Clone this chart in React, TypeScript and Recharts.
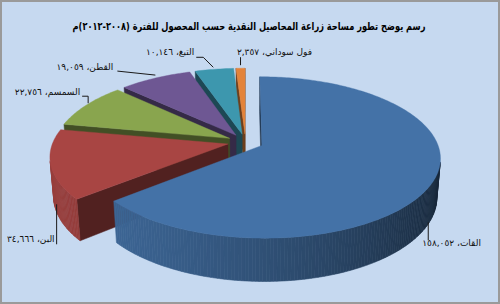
import React, { useLayoutEffect, useRef, useState } from 'react';
import { PieChart, Pie } from 'recharts';

// ---- data ----
const CATEGORIES = ['القات', 'البن', 'السمسم', 'القطن', 'التبغ', 'فول سوداني'];
const AREAS = [158052, 34666, 22756, 19059, 10146, 2357];
const TITLE = 'رسم يوضح تطور مساحة زراعة المحاصيل النقدية حسب المحصول للفترة (٢٠٠٨-٢٠١٢)م';

// ---- styles ----
const COLORS = ['#4472a7', '#a84543', '#89a54e', '#6e5793', '#3d97ae', '#e3833a'];
// label placement relative to the slice's rim point (leader polyline + text point)
const LABEL_LAYOUT = [
  { leader: [[-5, 41], [-5, 59]], text: [-11, 62], anchor: 'start' },
  { leader: [[6, 40], [6, 80]], text: [4, 75], anchor: 'end' },
  { leader: [[2, -2], [2, -9], [-4, -9]], text: [-6, -13], anchor: 'end' },
  { leader: [[0, -3], [-38, -7]], text: [-42, -11], anchor: 'end' },
  { leader: [[-1, -2], [-11, -12], [-18, -12]], text: [-20, -17], anchor: 'end' },
  { leader: [[0, -3], [0, -11]], text: [-3.6, -16], anchor: 'start' },
];

const FONT = '"DejaVu Sans", "Liberation Sans", Arial, sans-serif';
const TITLE_WIDTH = 352;

// 3D projection parameters
const TS = 0.445;
const TC = Math.sqrt(1 - TS * TS);
const PERSP = 0.148;
const DIST = TC / PERSP;
const EXPLODE = 0.103;
const DEPTH = 0.25;
const RAD = Math.PI / 180;

const tableData = CATEGORIES.map((name, i) => ({ name, value: AREAS[i], fill: COLORS[i], idx: i })).reverse();

function shade(hex: string, f: number) {
  const n = parseInt(hex.slice(1), 16);
  const r = Math.max(0, Math.min(255, Math.round(((n >> 16) & 255) * f)));
  const g = Math.max(0, Math.min(255, Math.round(((n >> 8) & 255) * f)));
  const b = Math.max(0, Math.min(255, Math.round((n & 255) * f)));
  return `rgb(${r},${g},${b})`;
}

function geom(cx: number, cy: number, k: number, a1: number, a2: number) {
  const mid = ((a1 + a2) / 2) * RAD;
  const ox = EXPLODE * Math.cos(mid);
  const oz = -EXPLODE * Math.sin(mid);
  const P = (X: number, Z: number, H: number) => {
    const ratio = 1 - (Z * TC + H * TS) / DIST;
    return [cx + (k * X) / ratio, cy - (k * (-Z * TS + H * TC)) / ratio];
  };
  const rim = (deg: number, H: number) => P(ox + Math.cos(deg * RAD), oz - Math.sin(deg * RAD), H);
  const ctr = (H: number) => P(ox, oz, H);
  return { ox, oz, rim, ctr };
}

const pt = (p: number[]) => `${p[0].toFixed(2)},${p[1].toFixed(2)}`;

function Slice3D(props: any) {
  const { cx, cy, outerRadius, startAngle, endAngle, fill } = props;
  const a1 = Math.min(startAngle, endAngle);
  const a2 = Math.max(startAngle, endAngle);
  const { ox, oz, rim, ctr } = geom(cx, cy, outerRadius, a1, a2);
  const n = Math.max(2, Math.ceil(a2 - a1));
  const step = (a2 - a1) / n;
  const els: React.ReactNode[] = [];

  // radial faces
  const faces: [number, number][] = [
    [a1, a1 - 90],
    [a2, a2 + 90],
  ];
  faces.forEach(([a, beta], j) => {
    const b = beta * RAD;
    const dot = Math.cos(b) * -ox - Math.sin(b) * (DIST * TC - oz);
    if (dot > 0) {
      const c = shade(fill, 0.48);
      const d = `M${pt(ctr(0))}L${pt(rim(a, 0))}L${pt(rim(a, -DEPTH))}L${pt(ctr(-DEPTH))}Z`;
      els.push(<path key={'f' + j} d={d} fill={c} stroke={c} strokeWidth={0.5} />);
    }
  });

  // outer wall
  for (let j = 0; j < n; j++) {
    const t0 = a1 + j * step;
    const t1 = t0 + step;
    const tm = (t0 + t1) / 2;
    const th = tm * RAD;
    const vis = -ox * Math.cos(th) - 1 - Math.sin(th) * (DIST * TC - oz);
    if (vis > 0) {
      const f = 0.6 + 0.3 * Math.cos((tm - 200) * RAD);
      const c = shade(fill, f);
      const d = `M${pt(rim(t0, 0))}L${pt(rim(t1, 0))}L${pt(rim(t1, -DEPTH))}L${pt(rim(t0, -DEPTH))}Z`;
      els.push(<path key={'w' + j} d={d} fill={c} stroke={c} strokeWidth={0.6} />);
    }
  }

  // top face
  let d = `M${pt(ctr(0))}`;
  for (let j = 0; j <= n; j++) d += `L${pt(rim(a1 + j * step, 0))}`;
  d += 'Z';
  els.push(<path key="top" d={d} fill={fill} stroke={fill} strokeWidth={0.4} />);

  return <g>{els}</g>;
}

const toArabicDigits = (s: string) => s.replace(/[0-9]/g, (c) => '٠١٢٣٤٥٦٧٨٩'[Number(c)]);
const fmt = (v: number) => toArabicDigits(v.toLocaleString('en-US'));

function renderLabel(props: any) {
  const { cx, cy, outerRadius, midAngle, startAngle, endAngle } = props;
  const name = props.name ?? props.payload?.name;
  const value = props.value ?? props.payload?.value;
  let idx = props.idx ?? props.payload?.idx ?? props.payload?.payload?.idx;
  if (idx === undefined) idx = CATEGORIES.indexOf(name);
  const mid = midAngle !== undefined ? midAngle : (startAngle + endAngle) / 2;
  const { rim } = geom(cx, cy, outerRadius, mid - 0.001, mid + 0.001);
  const [ax, ay] = rim(mid, 0);
  const lay = LABEL_LAYOUT[idx];
  const pts = lay.leader.map((p) => `${ax + p[0]},${ay + p[1]}`).join(' ');
  return (
    <g key={'lbl' + idx}>
      <polyline points={pts} fill="none" stroke="#1a1a1a" strokeWidth={1} />
      <text
        x={ax + lay.text[0]}
        y={ay + lay.text[1]}
        textAnchor={lay.anchor as any}
        dominantBaseline="central"
        fontSize={9}
        fontFamily={FONT}
        fill="#111"
      >
        {`${name}، ${fmt(value)}`}
      </text>
    </g>
  );
}

function Title() {
  const ref = useRef<SVGTextElement>(null);
  const [sx, setSx] = useState(0.71);
  useLayoutEffect(() => {
    if (ref.current) {
      const w = ref.current.getComputedTextLength();
      if (w > 0) setSx(TITLE_WIDTH / w);
    }
  }, []);
  return (
    <svg width={500} height={304} style={{ position: 'absolute', left: 0, top: 0, pointerEvents: 'none' }}>
      <g transform={`translate(249,26) scale(${sx},1)`}>
        <text
          ref={ref}
          x={0}
          y={0}
          textAnchor="middle"
          dominantBaseline="central"
          fontFamily={FONT}
          fontWeight="bold"
          fontSize={11}
          fill="#000"
        >
          {TITLE}
        </text>
      </g>
    </svg>
  );
}

export default function App() {
  return (
    <div style={{ position: 'relative', width: 500, height: 304, background: '#c6d9f0', overflow: 'hidden' }}>
      <style>{`body{margin:0;}`}</style>
      <div style={{ position: 'absolute', left: 0, top: 0 }}>
        <PieChart width={500} height={304} margin={{ top: 0, right: 0, bottom: 0, left: 0 }}>
          <Pie
            data={tableData}
            dataKey="value"
            nameKey="name"
            cx={245.5}
            cy={142}
            outerRadius={175}
            startAngle={90}
            endAngle={450}
            isAnimationActive={false}
            shape={Slice3D}
            label={renderLabel}
            labelLine={false}
            stroke="none"
          />
        </PieChart>
      </div>
      <Title />
      <div
        style={{
          position: 'absolute',
          left: 0,
          top: 0,
          width: 500,
          height: 304,
          boxSizing: 'border-box',
          border: '2px solid #9a9a9a',
          pointerEvents: 'none',
        }}
      />
    </div>
  );
}
